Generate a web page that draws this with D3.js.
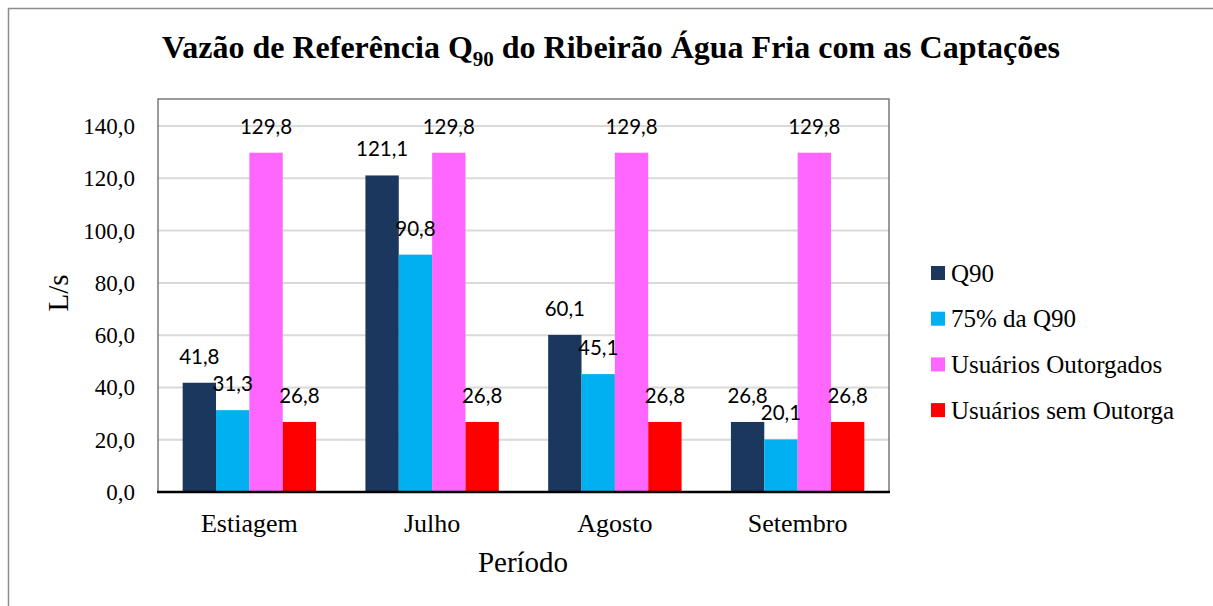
<!DOCTYPE html>
<html>
<head>
<meta charset="utf-8">
<script src="https://cdn.jsdelivr.net/npm/d3@7"></script>
<style>
  body { margin: 0; background: #fff; }
  svg text { font-family: "Liberation Serif", "Times New Roman", serif; }
</style>
</head>
<body>
<div id="chart"></div>
<script>
// chart data
var periods = ["Estiagem", "Julho", "Agosto", "Setembro"];
var seriesNames = ["Q90", "75% da Q90", "Usuários Outorgados", "Usuários sem Outorga"];
var q90 = [41.8, 121.1, 60.1, 26.8];
var q90_75 = [31.3, 90.8, 45.1, 20.1];
var outorgados = [129.8, 129.8, 129.8, 129.8];
var semOutorga = [26.8, 26.8, 26.8, 26.8];
var yTicks = [0, 20, 40, 60, 80, 100, 120, 140];
var colors = ["#1c375e", "#00b0f0", "#ff66ff", "#ff0000"];

var seriesValues = [q90, q90_75, outorgados, semOutorga];

var W = 1213, H = 606;
var plot = { left: 158, right: 889, top: 99, bottom: 492 };

var svg = d3.select("#chart").append("svg")
  .attr("width", W)
  .attr("height", H);

// outer frame (cut off on the right and bottom)
svg.append("rect")
  .attr("x", 8.5).attr("y", 8.5)
  .attr("width", 1230).attr("height", 640)
  .style("fill", "none")
  .style("stroke", "#8c8c8c")
  .style("stroke-width", 1.5);

var x0 = d3.scaleBand()
  .domain(periods)
  .range([plot.left, plot.right])
  .paddingInner(0.27)
  .paddingOuter(0.135);

var x1 = d3.scaleBand()
  .domain(d3.range(seriesNames.length))
  .range([0, x0.bandwidth()]);

var y = d3.scaleLinear()
  .domain([0, 140])
  .range([plot.bottom, plot.bottom - 140 * 2.614]);

// gridlines
svg.append("g")
  .selectAll("line")
  .data(yTicks.slice(1))
  .join("line")
  .attr("x1", plot.left)
  .attr("x2", plot.right)
  .attr("y1", d => y(d))
  .attr("y2", d => y(d))
  .style("stroke", "#d9d9d9")
  .style("stroke-width", 2);

// plot border
svg.append("rect")
  .attr("x", plot.left).attr("y", plot.top)
  .attr("width", plot.right - plot.left)
  .attr("height", plot.bottom - plot.top)
  .style("fill", "none")
  .style("stroke", "#595959")
  .style("stroke-width", 1.2);

// bars
var groups = svg.append("g")
  .selectAll("g")
  .data(periods)
  .join("g")
  .attr("transform", d => "translate(" + x0(d) + ",0)");

groups.selectAll("rect")
  .data((p, i) => seriesValues.map((s, k) => ({ k: k, v: s[i] })))
  .join("rect")
  .attr("x", d => x1(d.k))
  .attr("width", x1.bandwidth())
  .attr("y", d => y(d.v))
  .attr("height", d => y(0) - y(d.v))
  .style("fill", d => colors[d.k]);

// data labels
groups.selectAll("text")
  .data((p, i) => seriesValues.map((s, k) => ({ k: k, v: s[i] })))
  .join("text")
  .attr("x", d => x1(d.k) + x1.bandwidth() / 2)
  .attr("y", d => y(d.v) - 19)
  .attr("text-anchor", "middle")
  .text(d => d.v.toFixed(1).replace(".", ","))
  .style("font-family", "Lato, 'Liberation Sans', sans-serif")
  .style("font-size", "20.5px")
  .style("fill", "#000");

// x axis line
svg.append("line")
  .attr("x1", plot.left - 1)
  .attr("x2", plot.right + 1)
  .attr("y1", y(0))
  .attr("y2", y(0))
  .style("stroke", "#000")
  .style("stroke-width", 2.5);

// y tick labels
svg.append("g")
  .selectAll("text")
  .data(yTicks)
  .join("text")
  .attr("x", 135)
  .attr("y", d => y(d))
  .attr("dy", ".35em")
  .attr("text-anchor", "end")
  .text(d => d.toFixed(1).replace(".", ","))
  .style("font-size", "23px");

// category labels
svg.append("g")
  .selectAll("text")
  .data(periods)
  .join("text")
  .attr("x", d => x0(d) + x0.bandwidth() / 2)
  .attr("y", 532)
  .attr("text-anchor", "middle")
  .text(d => d)
  .style("font-size", "26px");

// axis titles
svg.append("text")
  .attr("x", 523)
  .attr("y", 572)
  .attr("text-anchor", "middle")
  .text("Período")
  .style("font-size", "29px");

svg.append("text")
  .attr("transform", "translate(68,293) rotate(-90)")
  .attr("text-anchor", "middle")
  .text("L/s")
  .style("font-size", "29px");

// title
var title = svg.append("text")
  .attr("x", 611)
  .attr("y", 58)
  .attr("text-anchor", "middle")
  .style("font-size", "32px")
  .style("font-weight", "bold");
title.append("tspan").text("Vazão de Referência Q");
title.append("tspan").text("90").attr("dy", 8).style("font-size", "21px");
title.append("tspan").text(" do Ribeirão Água Fria com as Captações").attr("dy", -8);

// legend
var legend = svg.append("g")
  .selectAll("g")
  .data(seriesNames)
  .join("g")
  .attr("transform", (d, i) => "translate(931," + (273 + i * 45.7) + ")");

legend.append("rect")
  .attr("x", 0).attr("y", -7)
  .attr("width", 14).attr("height", 14)
  .style("fill", (d, i) => colors[i]);

legend.append("text")
  .attr("x", 20)
  .attr("dy", ".35em")
  .text(d => d)
  .style("font-size", "25px");
</script>
</body>
</html>
